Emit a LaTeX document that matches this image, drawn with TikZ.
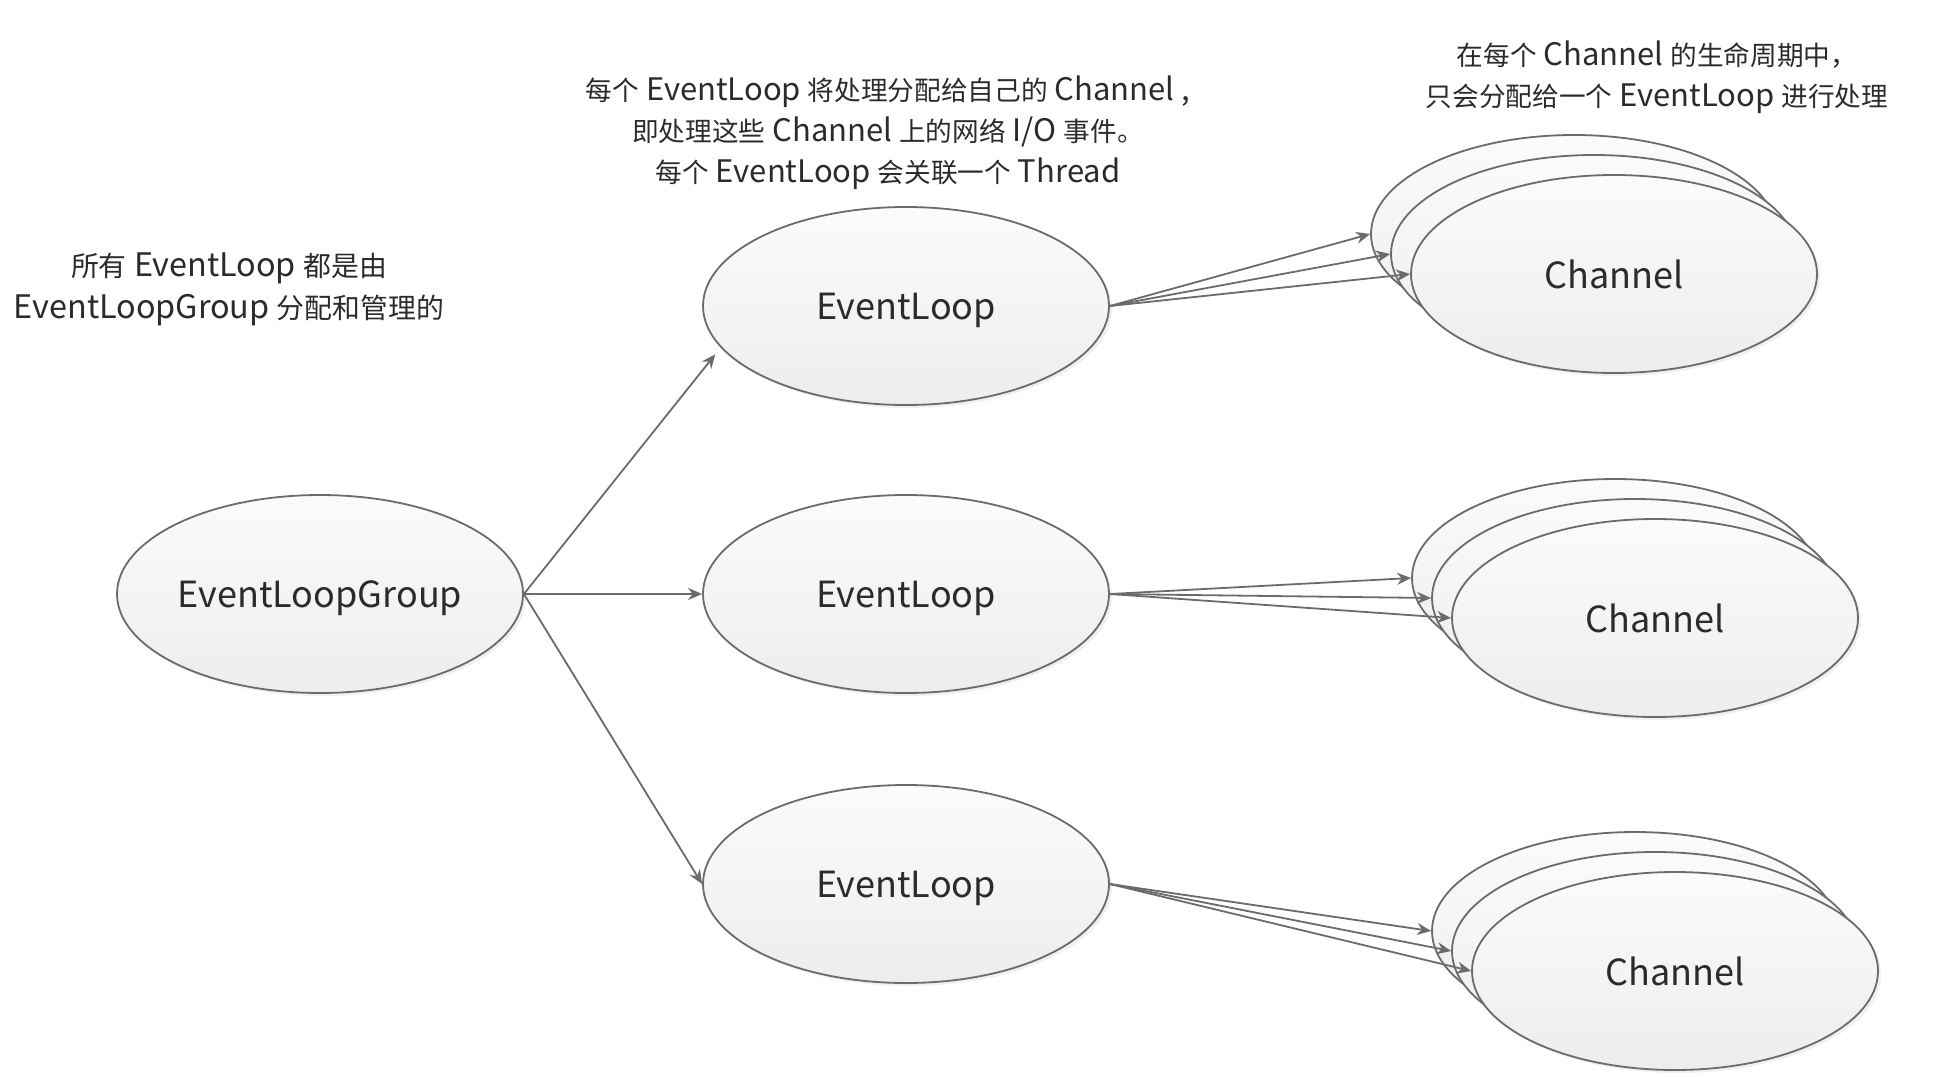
\documentclass[tikz,border=0pt]{standalone}
\usepackage{fontspec}
\setmainfont{Noto Sans CJK SC}
\newfontfamily\cjk{Noto Sans CJK SC}[Scale=0.86]
\usetikzlibrary{shapes.geometric,arrows.meta,shadows}
\definecolor{edgegray}{HTML}{6B6B6B}
\definecolor{txt}{HTML}{2B2B2B}
\definecolor{filltop}{HTML}{FBFBFB}
\definecolor{fillbot}{HTML}{EDEDED}
\tikzset{
  oval/.style={ellipse, draw=edgegray, line width=0.9pt, top color=filltop, bottom color=fillbot,
    minimum width=203pt, minimum height=99pt, inner sep=0pt, text depth=0pt,
    font=\fontsize{18}{22}\selectfont, text=txt,
    drop shadow={opacity=0.12, shadow xshift=1.5pt, shadow yshift=-1.5pt}},
  note/.style={align=center, font=\fontsize{15.5}{20.5}\selectfont, text=txt},
  link/.style={draw=edgegray, line width=0.9pt, -{Stealth[length=7pt,width=6pt]}}
}
\begin{document}
\begin{tikzpicture}[x=0.5pt,y=-0.5pt]
\path[use as bounding box] (0,0) rectangle (1942,1076);
% main nodes
\node[oval] (g) at (320,594) {EventLoopGroup};
\node[oval] (e1) at (906,306) {EventLoop};
\node[oval] (e2) at (906,594) {EventLoop};
\node[oval] (e3) at (906,884) {EventLoop};
% channel stacks
\node[oval] (c1c) at (1574,234) {};
\node[oval] (c1b) at (1594,254) {};
\node[oval] (c1a) at (1614,274) {Channel};
\node[oval] (c2c) at (1615,578) {};
\node[oval] (c2b) at (1635,598) {};
\node[oval] (c2a) at (1655,618) {Channel};
\node[oval] (c3c) at (1635,931) {};
\node[oval] (c3b) at (1655,951) {};
\node[oval] (c3a) at (1675,971) {Channel};
% connectors
\coordinate (e1in) at ([shift={(-9,3)}]e1.194);
\draw[link] (g.east) -- (e1in);
\draw[link] (g.east) -- (e2.west);
\draw[link] (g.east) -- (e3.west);
\foreach \n in {c1c,c1b,c1a} \draw[link] (e1.east) -- (\n.west);
\foreach \n in {c2c,c2b,c2a} \draw[link] (e2.east) -- (\n.west);
\foreach \n in {c3c,c3b,c3a} \draw[link] (e3.east) -- (\n.west);
% notes
\node[note] (t1) at (888,133) {{\cjk 每个} EventLoop {\cjk 将处理分配给自己的} Channel ,\\{\cjk 即处理这些} Channel {\cjk 上的网络} I/O {\cjk 事件。}\\{\cjk 每个} EventLoop {\cjk 会关联一个} Thread};
\node[note, font=\fontsize{16.2}{21}\selectfont] (t2) at (229,289) {{\cjk 所有} EventLoop {\cjk 都是由}\\EventLoopGroup {\cjk 分配和管理的}};
\node[note] (t3) at (1657,77) {{\cjk 在每个} Channel {\cjk 的生命周期中，}\\{\cjk 只会分配给一个} EventLoop {\cjk 进行处理}};
\end{tikzpicture}
\end{document}
